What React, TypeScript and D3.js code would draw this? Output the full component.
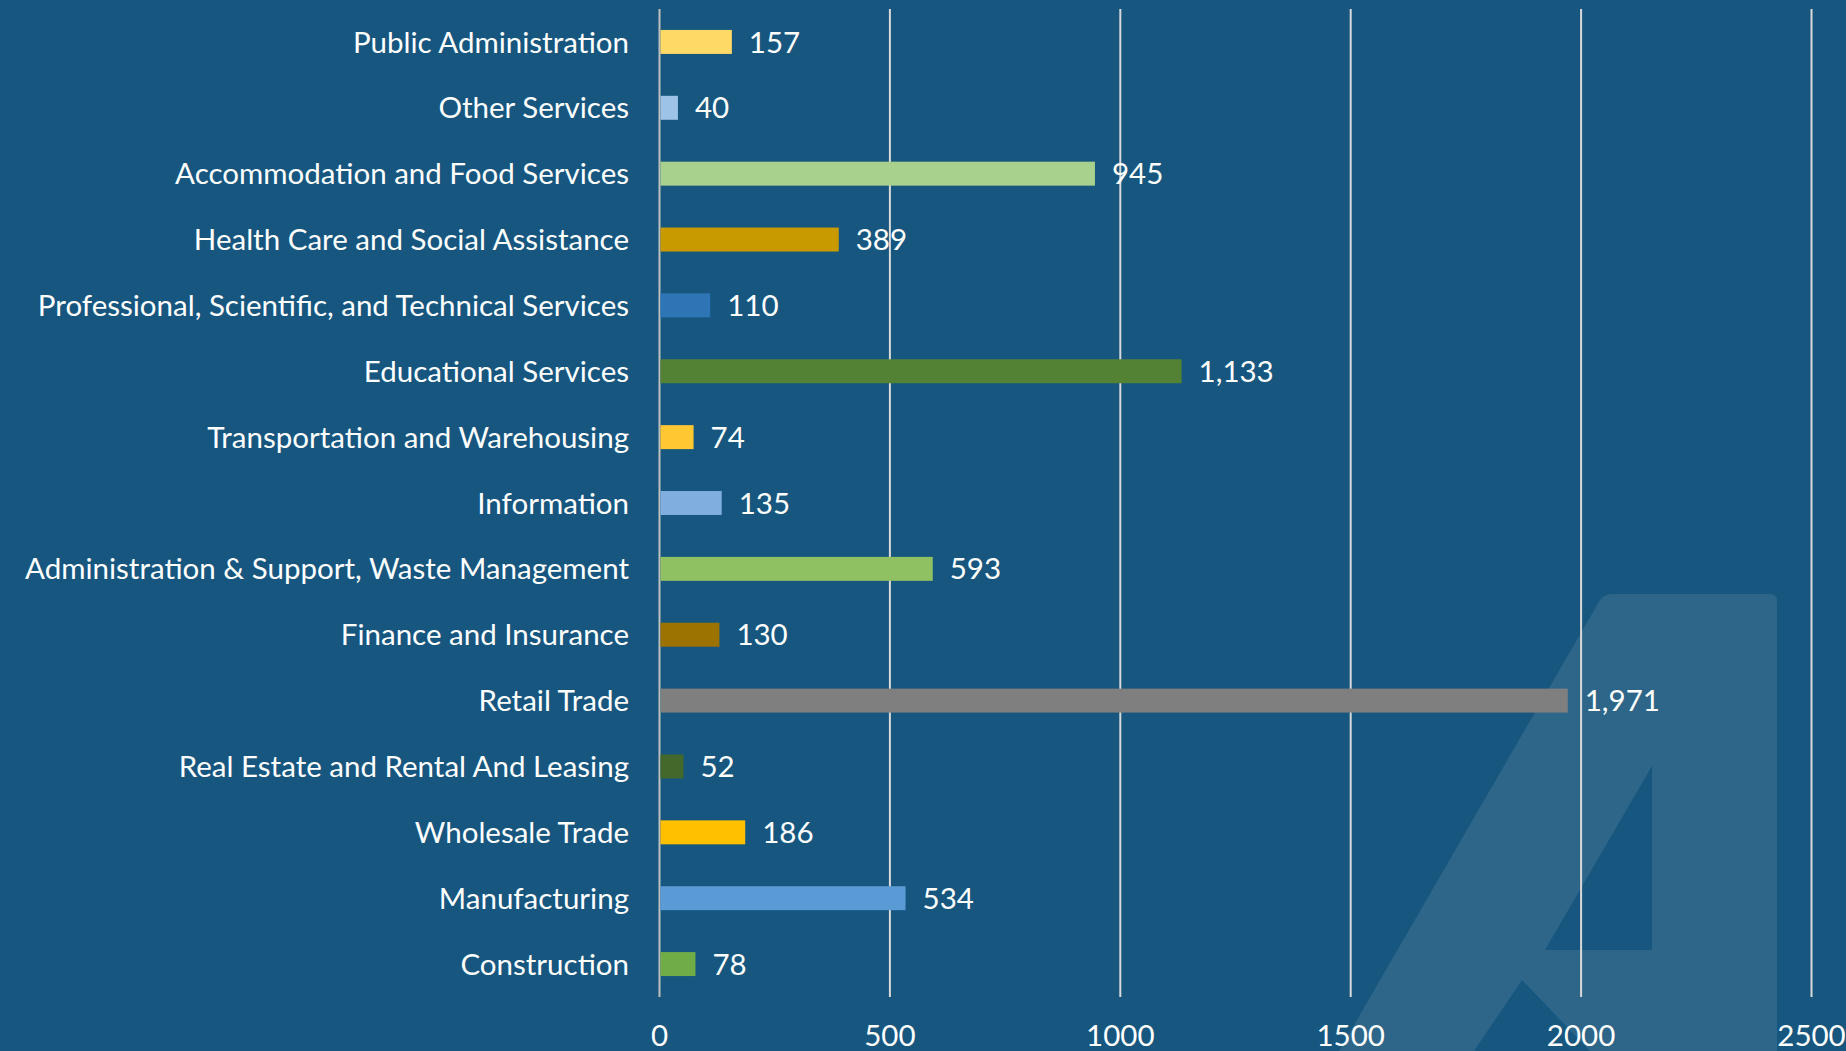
import React from 'react';
import * as d3 from 'd3';

const categories = [
  'Public Administration',
  'Other Services',
  'Accommodation and Food Services',
  'Health Care and Social Assistance',
  'Professional, Scientific, and Technical Services',
  'Educational Services',
  'Transportation and Warehousing',
  'Information',
  'Administration & Support, Waste Management',
  'Finance and Insurance',
  'Retail Trade',
  'Real Estate and Rental And Leasing',
  'Wholesale Trade',
  'Manufacturing',
  'Construction',
];
const values = [157, 40, 945, 389, 110, 1133, 74, 135, 593, 130, 1971, 52, 186, 534, 78];
const barColors = [
  '#FFD966', '#9DC3E6', '#A9D18E', '#C99A00', '#2E75B6',
  '#548235', '#FFC832', '#7FAEDF', '#8FC163', '#9C7200',
  '#7F7F7F', '#43682B', '#FFC000', '#5B9BD5', '#70AD47',
];
const xTicks = [0, 500, 1000, 1500, 2000, 2500];

const W = 1846;
const H = 1051;
const left = 659.5;
const right = 1811.5;
const top = 9;
const bottom = 997;
const font = 'Lato, "Open Sans", sans-serif';
const fontSize = 29.5;

export default function App() {
  const x = d3.scaleLinear().domain([0, 2500]).range([left, right]);
  const y = d3.scaleBand().domain(categories).range([top, bottom]).paddingInner(0.636).paddingOuter(0.318);
  const fmt = d3.format(',');

  // watermark "A" shape
  const outer = d3.path();
  outer.moveTo(1339, H);
  outer.lineTo(1600, 600);
  outer.quadraticCurveTo(1604, 594, 1612, 594);
  outer.lineTo(1770, 594);
  outer.quadraticCurveTo(1777, 594, 1777, 601);
  outer.lineTo(1777, H);
  outer.lineTo(1590, H);
  outer.lineTo(1522, 980);
  outer.lineTo(1474, H);
  outer.closePath();
  outer.moveTo(1652, 766);
  outer.lineTo(1652, 950);
  outer.lineTo(1545, 950);
  outer.closePath();

  return (
    <svg width={W} height={H} style={{ position: 'absolute', left: 0, top: 0 }} fontFamily={font}>
      <rect width={W} height={H} fill="#16567F" />
      <path d={outer.toString()} fill="#2E6689" fillRule="evenodd" />
      {xTicks.map((t, i) => (
        <g key={t}>
          <line
            x1={x(t)} x2={x(t)} y1={top} y2={bottom}
            stroke={i === 0 ? '#BFBFBF' : '#D9D9D9'} strokeWidth={2}
          />
          <text x={x(t)} y={1035} dy="0.36em" fill="#fff" fontSize={fontSize} textAnchor="middle">
            {t}
          </text>
        </g>
      ))}
      {categories.map((c, i) => {
        const yy = y(c)!;
        const cy = yy + y.bandwidth() / 2;
        return (
          <g key={c}>
            <rect x={x(0) + 1} y={yy} width={x(values[i]) - x(0) - 1} height={y.bandwidth()} fill={barColors[i]} />
            <text x={629} y={cy} dy="0.36em" fill="#fff" fontSize={fontSize} textAnchor="end">
              {c}
            </text>
            <text x={x(values[i]) + 17} y={cy} dy="0.36em" fill="#fff" fontSize={fontSize}>
              {fmt(values[i])}
            </text>
          </g>
        );
      })}
    </svg>
  );
}
